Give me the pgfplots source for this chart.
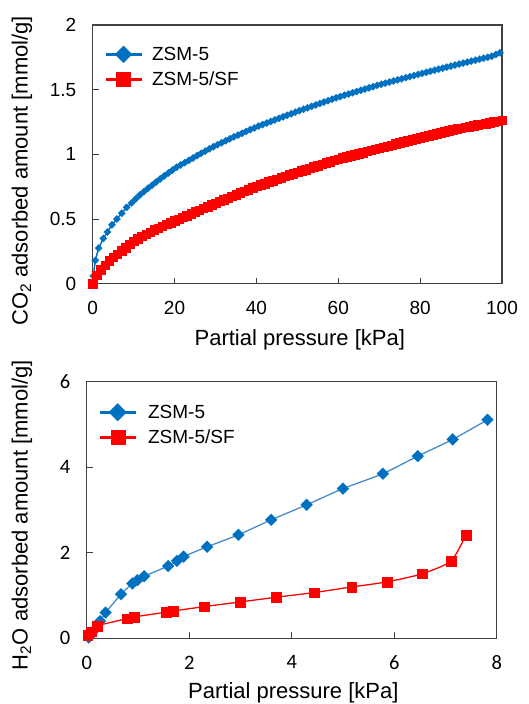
\documentclass[border=0pt]{standalone}
\usepackage{fontspec}
\setmainfont{Liberation Sans}
\newfontfamily\calibri{Carlito}
\usepackage{pgfplots}
\pgfplotsset{compat=1.18}
\definecolor{zblue}{RGB}{0,112,192}
\definecolor{zline}{RGB}{70,140,205}
\definecolor{zred}{RGB}{255,0,0}
\definecolor{frame}{RGB}{64,64,64}
\pgfplotsset{
  common/.style={
    scale only axis, clip=false,
    axis line style={frame, line width=1.1pt},
    tick align=inside, tick pos=left,
    major tick length=6pt,
    every tick/.style={frame, line width=1pt},
    /pgf/number format/assume math mode=true,
    legend cell align=left,
    legend image code/.code={\draw[mark repeat=2,mark phase=2,##1] plot coordinates {(0pt,0pt) (18pt,0pt) (36pt,0pt)};},
  }
}
\begin{document}
\begin{tikzpicture}
% ---------------- top: CO2 ----------------
\begin{axis}[common,
  at={(92.7pt,420.3pt)}, anchor=south west,
  width=409.3pt, height=258.7pt,
  xmin=0, xmax=100, ymin=0, ymax=2,
  xtick={0,20,40,60,80,100}, ytick={0,0.5,1,1.5,2},
  ticklabel style={font=\fontsize{19}{19}\selectfont},
  xticklabel style={yshift=-14pt},
  yticklabel style={xshift=-13pt},
  /pgf/number format/fixed,
  xlabel={Partial pressure [kPa]},
  ylabel={CO\textsubscript{2} adsorbed amount [mmol/g]},
  label style={font=\fontsize{22}{22}\selectfont},
  xlabel style={at={(axis description cs:0.506,-0.240)}, anchor=base},
  ylabel style={at={(axis description cs:-0.173,0.436)}, anchor=center},
  legend style={draw=none, fill=none, at={(axis description cs:0.02,0.935)}, anchor=north west,
    font=\fontsize{19}{19}\selectfont, row sep=4pt, column sep=6pt, nodes={inner sep=3pt}},
]
\addplot[zblue, line width=1.5pt, mark=square*, mark size=2.6pt, mark options={rotate=45, line width=0.2pt}, forget plot] coordinates {
(0.15,0.06) (0.65,0.18) (1.45,0.275) (2.6,0.35) (3.6,0.40) (4.7,0.455) (5.9,0.50) (7.1,0.545) (8.3,0.59) (9.5,0.625)
(10.5,0.655) (11.5,0.685) (12.5,0.712) (13.5,0.738) (14.5,0.762) (15.5,0.786) (16.5,0.81) (17.5,0.834) (18.5,0.856) (19.5,0.878)
(20.5,0.90) (21.5,0.918) (22.5,0.936) (23.5,0.954) (24.5,0.972) (25.5,0.99) (26.5,1.008) (27.5,1.025) (28.5,1.042) (29.5,1.059)
(30.5,1.075) (31.5,1.09) (32.5,1.105) (33.5,1.12) (34.5,1.135) (35.5,1.149) (36.5,1.163) (37.5,1.177) (38.5,1.191) (39.5,1.205)
(40.5,1.218) (41.5,1.23) (42.5,1.242) (43.5,1.254) (44.5,1.266) (45.5,1.278) (46.5,1.29) (47.5,1.302) (48.5,1.314) (49.5,1.326)
(50.5,1.338) (51.5,1.349) (52.5,1.36) (53.5,1.371) (54.5,1.382) (55.5,1.393) (56.5,1.404) (57.5,1.415) (58.5,1.426) (59.5,1.437)
(60.5,1.447) (61.5,1.457) (62.5,1.466) (63.5,1.476) (64.5,1.485) (65.5,1.495) (66.5,1.504) (67.5,1.514) (68.5,1.523) (69.5,1.533)
(70.5,1.542) (71.5,1.55) (72.5,1.559) (73.5,1.567) (74.5,1.576) (75.5,1.584) (76.5,1.593) (77.5,1.601) (78.5,1.61) (79.5,1.618)
(80.5,1.626) (81.5,1.634) (82.5,1.642) (83.5,1.65) (84.5,1.658) (85.5,1.666) (86.5,1.674) (87.5,1.682) (88.5,1.69) (89.5,1.698)
(90.5,1.705) (91.5,1.713) (92.5,1.72) (93.5,1.728) (94.5,1.735) (95.5,1.743) (96.5,1.75) (97.5,1.758) (98.5,1.772) (99.5,1.785)
};
\addplot[zred, line width=1.5pt, mark=square*, mark size=4.3pt, mark options={line width=0.2pt}, forget plot] coordinates {
(0,0) (1,0.065) (2,0.11) (3,0.145) (4,0.177) (5,0.205) (6,0.23) (7,0.255) (8,0.28) (9,0.305)
(10,0.33) (11,0.349) (12,0.367) (13,0.384) (14,0.40) (15,0.416) (16,0.431) (17,0.446) (18,0.46) (19,0.473)
(20,0.486) (21,0.50) (22,0.514) (23,0.528) (24,0.542) (25,0.556) (26,0.57) (27,0.584) (28,0.598) (29,0.611)
(30,0.624) (31,0.637) (32,0.65) (33,0.663) (34,0.676) (35,0.689) (36,0.702) (37,0.715) (38,0.728) (39,0.741)
(40,0.754) (41,0.765) (42,0.776) (43,0.787) (44,0.798) (45,0.809) (46,0.82) (47,0.831) (48,0.842) (49,0.853)
(50,0.864) (51,0.874) (52,0.884) (53,0.894) (54,0.904) (55,0.914) (56,0.924) (57,0.934) (58,0.944) (59,0.954)
(60,0.964) (61,0.973) (62,0.981) (63,0.99) (64,0.998) (65,1.007) (66,1.015) (67,1.024) (68,1.032) (69,1.041)
(70,1.049) (71,1.057) (72,1.065) (73,1.073) (74,1.081) (75,1.089) (76,1.097) (77,1.105) (78,1.113) (79,1.121)
(80,1.129) (81,1.137) (82,1.144) (83,1.152) (84,1.159) (85,1.167) (86,1.174) (87,1.182) (88,1.189) (89,1.197)
(90,1.204) (91,1.21) (92,1.216) (93,1.222) (94,1.228) (95,1.234) (96,1.24) (97,1.246) (98,1.252) (99,1.258) (100,1.264)
};
\addlegendimage{zblue, line width=3pt, mark=square*, mark size=6pt, mark options={rotate=45, line width=0.2pt}}
\addlegendentry{ZSM-5}
\addlegendimage{zred, line width=3pt, mark=square*, mark size=7pt, mark options={line width=0.2pt}}
\addlegendentry{ZSM-5/SF}
\end{axis}
% ---------------- bottom: H2O ----------------
\begin{axis}[common,
  at={(86.7pt,65.7pt)}, anchor=south west,
  width=410pt, height=256.6pt,
  xmin=0, xmax=8, ymin=0, ymax=6,
  xtick={0,2,4,6,8}, ytick={0,2,4,6},
  ticklabel style={font=\calibri\fontsize{20.5}{20.5}\selectfont},
  xticklabel style={yshift=-14pt},
  yticklabel style={xshift=-13pt},
  xlabel={Partial pressure [kPa]},
  ylabel={H\textsubscript{2}O adsorbed amount [mmol/g]},
  label style={font=\fontsize{22}{22}\selectfont},
  xlabel style={at={(axis description cs:0.504,-0.236)}, anchor=base},
  ylabel style={at={(axis description cs:-0.158,0.48)}, anchor=center},
  legend style={draw=none, fill=none, at={(axis description cs:0.02,0.93)}, anchor=north west,
    font=\fontsize{19}{19}\selectfont, row sep=4pt, column sep=8pt, nodes={inner sep=3pt}},
]
\addplot[zline, line width=1.3pt, smooth, tension=0.4, mark=square*, mark size=4.2pt, mark options={zblue, rotate=45, line width=0.2pt}, forget plot] coordinates {
(0.04,0.02) (0.14,0.18) (0.26,0.40) (0.37,0.60) (0.67,1.03) (0.89,1.28) (0.99,1.36) (1.12,1.45) (1.59,1.69) (1.76,1.81)
(1.89,1.91) (2.35,2.14) (2.96,2.42) (3.60,2.77) (4.29,3.12) (5.00,3.50) (5.78,3.85) (6.46,4.26) (7.14,4.65) (7.82,5.11)
};
\addplot[zred, line width=1.3pt, smooth, tension=0.4, mark=square*, mark size=4.8pt, mark options={line width=0.2pt}, forget plot] coordinates {
(0.02,0.08) (0.09,0.16) (0.20,0.29) (0.79,0.46) (0.92,0.50) (1.55,0.61) (1.69,0.64) (2.29,0.74) (2.99,0.85) (3.70,0.96)
(4.44,1.07) (5.17,1.20) (5.86,1.32) (6.55,1.51) (7.11,1.81) (7.40,2.42)
};
\addlegendimage{zblue, line width=3pt, mark=square*, mark size=6.2pt, mark options={rotate=45, line width=0.2pt}}
\addlegendentry{ZSM-5}
\addlegendimage{zred, line width=3pt, mark=square*, mark size=7pt, mark options={line width=0.2pt}}
\addlegendentry{ZSM-5/SF}
\end{axis}
\pgfresetboundingbox
\path (0pt,0pt) rectangle (529pt,704pt);
\end{tikzpicture}
\end{document}
